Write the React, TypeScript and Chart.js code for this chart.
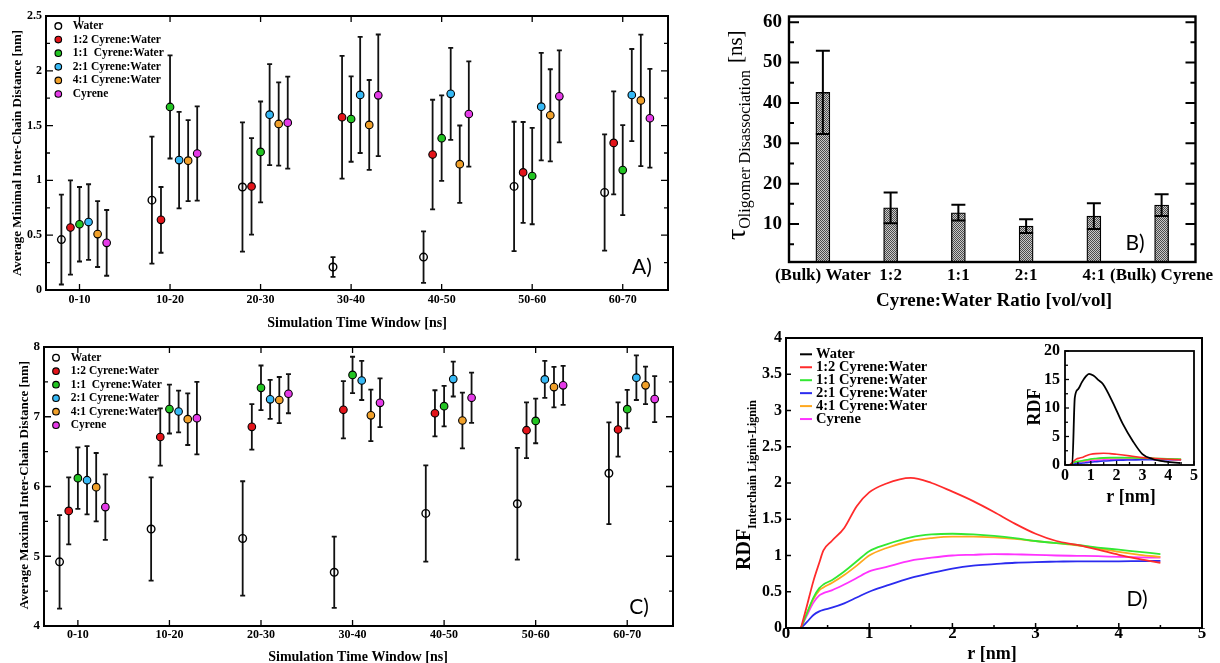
import React, { useEffect, useRef } from 'react';
import { Chart, registerables } from 'chart.js';

Chart.register(...registerables);

// ---------------- Data ----------------
const timeWindows = ['0-10', '10-20', '20-30', '30-40', '40-50', '50-60', '60-70'];
const seriesLabels = ['Water', '1:2 Cyrene:Water', '1:1  Cyrene:Water', '2:1 Cyrene:Water', '4:1 Cyrene:Water', 'Cyrene'];

// Panel A: average minimal inter-chain distance [nm]
const minWater = [0.46, 0.82, 0.94, 0.21, 0.3, 0.945, 0.89];
const minWaterErr = [0.41, 0.58, 0.59, 0.09, 0.235, 0.59, 0.53];
const min12 = [0.57, 0.64, 0.945, 1.576, 1.236, 1.073, 1.342];
const min12Err = [0.43, 0.3, 0.44, 0.56, 0.5, 0.46, 0.47];
const min11 = [0.6, 1.67, 1.26, 1.56, 1.385, 1.04, 1.094];
const min11Err = [0.34, 0.47, 0.46, 0.39, 0.39, 0.44, 0.41];
const min21 = [0.62, 1.185, 1.6, 1.78, 1.79, 1.673, 1.779];
const min21Err = [0.345, 0.44, 0.46, 0.53, 0.42, 0.49, 0.42];
const min41 = [0.51, 1.18, 1.515, 1.506, 1.148, 1.594, 1.73];
const min41Err = [0.3, 0.37, 0.38, 0.41, 0.353, 0.42, 0.6];
const minCyrene = [0.43, 1.245, 1.527, 1.776, 1.606, 1.767, 1.567];
const minCyreneErr = [0.3, 0.43, 0.42, 0.555, 0.48, 0.42, 0.45];

// Panel C: average maximal inter-chain distance [nm]
const maxWater = [4.92, 5.39, 5.255, 4.77, 5.614, 5.753, 6.19];
const maxWaterErr = [0.67, 0.74, 0.82, 0.51, 0.69, 0.8, 0.73];
const max12 = [5.65, 6.71, 6.855, 7.1, 7.05, 6.807, 6.817];
const max12Err = [0.48, 0.41, 0.325, 0.41, 0.33, 0.4, 0.39];
const max11 = [6.12, 7.11, 7.415, 7.6, 7.152, 6.94, 7.109];
const max11Err = [0.44, 0.35, 0.32, 0.26, 0.29, 0.32, 0.275];
const max21 = [6.09, 7.075, 7.25, 7.52, 7.54, 7.535, 7.56];
const max21Err = [0.49, 0.3, 0.28, 0.28, 0.25, 0.265, 0.32];
const max41 = [5.99, 6.965, 7.24, 7.02, 6.946, 7.425, 7.45];
const max41Err = [0.49, 0.37, 0.33, 0.37, 0.4, 0.29, 0.27];
const maxCyrene = [5.705, 6.98, 7.33, 7.2, 7.272, 7.45, 7.253];
const maxCyreneErr = [0.47, 0.52, 0.28, 0.35, 0.36, 0.28, 0.33];

// Panel B: oligomer disassociation time [ns]
const ratioLabels = ['(Bulk) Water', '1:2', '1:1', '2:1', '4:1', '(Bulk) Cyrene'];
const tauValues = [42.6, 14.0, 12.8, 9.5, 11.95, 14.7];
const tauErrors = [10.3, 3.8, 1.95, 1.7, 3.2, 2.7];
const tauTicks = [10, 20, 30, 40, 50, 60];

// Panel D: RDF interchain lignin-lignin
const rdfLabels = ['Water', '1:2 Cyrene:Water', '1:1 Cyrene:Water', '2:1 Cyrene:Water', '4:1 Cyrene:Water', 'Cyrene'];
const rGrid = [0.18, 0.25, 0.33, 0.4, 0.45, 0.55, 0.7, 0.85, 1.0, 1.2, 1.5, 1.75, 2.0, 2.25, 2.5, 2.75, 3.0, 3.25, 3.5, 3.75, 4.0, 4.25, 4.5];
const rdf12 = [0, 0.3, 0.65, 0.9, 1.07, 1.2, 1.38, 1.68, 1.87, 1.99, 2.07, 2.0, 1.88, 1.75, 1.6, 1.44, 1.3, 1.2, 1.145, 1.08, 1.01, 0.95, 0.9];
const rdf11 = [0, 0.2, 0.42, 0.55, 0.6, 0.66, 0.78, 0.92, 1.06, 1.15, 1.25, 1.29, 1.3, 1.29, 1.27, 1.24, 1.2, 1.17, 1.145, 1.11, 1.08, 1.05, 1.02];
const rdf21 = [0, 0.08, 0.18, 0.23, 0.25, 0.28, 0.34, 0.42, 0.5, 0.58, 0.69, 0.76, 0.82, 0.86, 0.88, 0.9, 0.91, 0.915, 0.92, 0.92, 0.92, 0.923, 0.925];
const rdf41 = [0, 0.2, 0.4, 0.52, 0.56, 0.62, 0.73, 0.86, 1.0, 1.1, 1.2, 1.24, 1.26, 1.26, 1.25, 1.23, 1.2, 1.17, 1.14, 1.1, 1.05, 1.01, 0.98];
const rdfCyrene = [0, 0.17, 0.35, 0.45, 0.48, 0.52, 0.6, 0.69, 0.78, 0.84, 0.93, 0.97, 1.0, 1.01, 1.02, 1.015, 1.01, 1.0, 0.995, 0.99, 0.98, 0.975, 0.97];
const rWater = [0.18, 0.28, 0.38, 0.51, 0.65, 0.8, 0.93, 1.1, 1.3, 1.47, 1.85, 2.24, 2.62, 3.0, 3.39, 3.9, 4.47];
const rdfWater = [0, 0, 11.8, 13.3, 14.5, 15.5, 16.0, 15.7, 14.9, 14.2, 11.0, 7.2, 4.26, 1.92, 1.05, 0.58, 0.35];
const insetXTicks = [0, 1, 2, 3, 4, 5];

// ---------------- Styles ----------------
const SERIF = '"Liberation Serif", "Times New Roman", Times, serif';
const LABEL_SANS = 'Lato, "Open Sans", "Liberation Sans", sans-serif';
const fnt = (size: number, bold = true, fam = SERIF) => `${bold ? 'bold ' : ''}${size}px ${fam}`;
const axisFont = (size: number) => ({ family: SERIF, size, weight: 'bold' as const, lineHeight: 1 });
const plainNum = (v: any) => String(Math.round(Number(v) * 100) / 100);
const markerFill = ['rgba(0,0,0,0)', '#e3141a', '#22c422', '#36b9f6', '#f0a02a', '#e53ae8'];
const lineColors = ['#000000', '#ff2b2b', '#33e833', '#2b2bef', '#ffa81e', '#ff33ff'];
const groupOffsets = [-0.2, -0.1, 0, 0.1, 0.2, 0.3];

const common: any = {
  responsive: false,
  maintainAspectRatio: false,
  animation: false,
  devicePixelRatio: 1,
  events: [],
  plugins: { legend: { display: false }, tooltip: { enabled: false }, title: { display: false } },
};

type Box = { x: number; y: number; w: number; h: number };
type Area = { l: number; t: number; r: number; b: number };
type Run = { text: string; font: string; dy?: number; gap?: number };
type TextItem = { runs: Run[]; x: number; y: number; rotate?: boolean; align?: 'left' | 'center' };

// ---------------- Plugins ----------------
function drawRuns(ctx: CanvasRenderingContext2D, it: TextItem) {
  ctx.save();
  ctx.translate(it.x, it.y);
  if (it.rotate) ctx.rotate(-Math.PI / 2);
  ctx.textBaseline = 'alphabetic';
  ctx.textAlign = 'left';
  ctx.fillStyle = '#000';
  let total = 0;
  it.runs.forEach((r) => {
    ctx.font = r.font;
    total += ctx.measureText(r.text).width + (r.gap || 0);
  });
  let cx = it.align === 'center' ? -total / 2 : 0;
  it.runs.forEach((r) => {
    ctx.font = r.font;
    cx += r.gap || 0;
    ctx.fillText(r.text, cx, r.dy || 0);
    cx += ctx.measureText(r.text).width;
  });
  ctx.restore();
}

const textPlugin = (items: TextItem[]) => ({
  id: 'texts',
  afterDraw(chart: any) {
    items.forEach((it) => drawRuns(chart.ctx, it));
  },
});

function minorValues(s: any, step: number) {
  const out: number[] = [];
  if (!step) return out;
  const majors = s.ticks.map((t: any) => t.value);
  for (let k = Math.ceil(s.min / step - 1e-9); k * step <= s.max + 1e-9; k++) {
    const v = k * step;
    if (!majors.some((m: number) => Math.abs(m - v) < step / 10)) out.push(v);
  }
  return out;
}

const framePlugin = (o: any) => ({
  id: 'frame',
  afterDraw(chart: any) {
    const { ctx, chartArea: a } = chart;
    const xs = chart.scales.x;
    const ys = chart.scales.y;
    ctx.save();
    ctx.strokeStyle = '#000';
    ctx.lineWidth = o.tickWidth ?? 1.5;
    const yTick = (v: number, len: number) => {
      const p = ys.getPixelForValue(v);
      if (p < a.top - 0.5 || p > a.bottom + 0.5) return;
      ctx.beginPath();
      ctx.moveTo(a.left, p);
      ctx.lineTo(a.left + len, p);
      if (o.yRight) {
        ctx.moveTo(a.right, p);
        ctx.lineTo(a.right - len, p);
      }
      ctx.stroke();
    };
    const xTick = (v: number, len: number) => {
      const p = xs.getPixelForValue(v);
      if (p < a.left - 0.5 || p > a.right + 0.5) return;
      ctx.beginPath();
      ctx.moveTo(p, a.bottom);
      ctx.lineTo(p, a.bottom - len);
      if (o.xTop) {
        ctx.moveTo(p, a.top);
        ctx.lineTo(p, a.top + len);
      }
      ctx.stroke();
    };
    if (o.yMajorLen) ys.ticks.forEach((t: any) => yTick(t.value, o.yMajorLen));
    if (o.yMinorLen) minorValues(ys, o.yMinorStep).forEach((v) => yTick(v, o.yMinorLen));
    if (o.xMajorLen) xs.ticks.forEach((t: any) => xTick(t.value, o.xMajorLen));
    if (o.xMinorLen) minorValues(xs, o.xMinorStep).forEach((v) => xTick(v, o.xMinorLen));
    ctx.lineWidth = o.frameWidth ?? 2;
    ctx.strokeRect(a.left, a.top, a.right - a.left, a.bottom - a.top);
    ctx.restore();
  },
});

function drawErrorBars(chart: any, errors: number[][], o: any) {
  const { ctx } = chart;
  const ys = chart.scales.y;
  ctx.save();
  ctx.strokeStyle = o.color ?? '#111';
  ctx.lineWidth = o.width ?? 2;
  chart.data.datasets.forEach((ds: any, i: number) => {
    const errs = errors[i];
    if (!errs) return;
    const meta = chart.getDatasetMeta(i);
    meta.data.forEach((el: any, j: number) => {
      const raw = ds.data[j];
      const v = typeof raw === 'number' ? raw : raw.y;
      const e = errs[j];
      const top = ys.getPixelForValue(v + e);
      const bot = ys.getPixelForValue(v - e);
      const x = el.x;
      const c = o.cap ?? 3;
      ctx.beginPath();
      ctx.moveTo(x, top);
      ctx.lineTo(x, bot);
      ctx.moveTo(x - c, top);
      ctx.lineTo(x + c, top);
      ctx.moveTo(x - c, bot);
      ctx.lineTo(x + c, bot);
      ctx.stroke();
    });
  });
  ctx.restore();
}

const errorBarPlugin = (errors: number[][], o: any) => ({
  id: 'errbars',
  beforeDatasetsDraw(chart: any) {
    if (!o.after) drawErrorBars(chart, errors, o);
  },
  afterDatasetsDraw(chart: any) {
    if (o.after) drawErrorBars(chart, errors, o);
  },
});

const keyPlugin = (o: any) => ({
  id: 'keybox',
  afterDraw(chart: any) {
    const { ctx } = chart;
    ctx.save();
    ctx.textBaseline = 'middle';
    ctx.textAlign = 'left';
    o.items.forEach((it: any, i: number) => {
      const y = o.y + i * o.step;
      if (o.kind === 'marker') {
        ctx.beginPath();
        ctx.arc(o.markX, y, o.r, 0, Math.PI * 2);
        ctx.fillStyle = it.fill;
        ctx.fill();
        ctx.lineWidth = it.bw;
        ctx.strokeStyle = '#000';
        ctx.stroke();
      } else {
        ctx.beginPath();
        ctx.moveTo(o.lineX0, y);
        ctx.lineTo(o.lineX1, y);
        ctx.strokeStyle = it.color;
        ctx.lineWidth = 2;
        ctx.stroke();
      }
      ctx.font = o.font;
      ctx.fillStyle = '#000';
      ctx.fillText(it.label, o.textX, y + (o.textDy ?? 0));
    });
    ctx.restore();
  },
});

function hiddenGrid() {
  return { grid: { display: false, drawTicks: false }, border: { display: false } };
}

// ---------------- Chart configs ----------------
function scatterPanel(p: {
  box: Box;
  area: Area;
  values: number[][];
  errors: number[][];
  yMin: number;
  yMax: number;
  yStep: number;
  yMinor: number;
  yFont: number;
  xPad: number;
  yPad: number;
  legend: { markX: number; textX: number; y: number; step: number };
  texts: TextItem[];
}) {
  return () => {
    const datasets = p.values.map((vals, s) => ({
      label: seriesLabels[s],
      data: vals.map((v, i) => ({ x: i + 1 + groupOffsets[s], y: v })),
      backgroundColor: markerFill[s],
      borderColor: '#000',
      borderWidth: s === 0 ? 1.4 : 1.1,
      pointRadius: 3.8,
      pointHoverRadius: 3.8,
      showLine: false,
    }));
    return {
      type: 'scatter',
      data: { datasets },
      options: {
        ...common,
        layout: { padding: { top: p.area.t, right: p.box.w - p.area.r, left: 0, bottom: 0 } },
        scales: {
          x: {
            type: 'linear',
            min: 0.63,
            max: 7.5,
            afterBuildTicks: (s: any) => {
              s.ticks = timeWindows.map((_, i) => ({ value: i + 1 }));
            },
            afterFit: (s: any) => {
              s.height = p.box.h - p.area.b;
            },
            ticks: {
              autoSkip: false,
              maxRotation: 0,
              minRotation: 0,
              callback: (_v: any, i: number) => timeWindows[i],
              font: axisFont(12),
              color: '#000',
              padding: p.xPad,
            },
            ...hiddenGrid(),
          },
          y: {
            type: 'linear',
            min: p.yMin,
            max: p.yMax,
            afterFit: (s: any) => {
              s.width = p.area.l;
            },
            ticks: { stepSize: p.yStep, font: axisFont(p.yFont), color: '#000', padding: p.yPad, callback: plainNum },
            ...hiddenGrid(),
          },
        },
      },
      plugins: [
        errorBarPlugin(p.errors, { width: 1.8, cap: 2.5 }),
        framePlugin({ yMajorLen: 7, yMinorLen: 4, yMinorStep: p.yMinor, yRight: true, xMajorLen: 6, xTop: true, frameWidth: 2, tickWidth: 1.3 }),
        keyPlugin({
          kind: 'marker',
          markX: p.legend.markX,
          textX: p.legend.textX,
          y: p.legend.y,
          step: p.legend.step,
          r: 3.3,
          font: fnt(11.5),
          items: seriesLabels.map((l, s) => ({ label: l, fill: markerFill[s], bw: s === 0 ? 1.4 : 1.1 })),
        }),
        textPlugin(p.texts),
      ],
    };
  };
}

const boxA: Box = { x: 0, y: 0, w: 690, h: 330 };
const areaA: Area = { l: 46, t: 16, r: 668, b: 290 };
const buildA = scatterPanel({
  box: boxA,
  area: areaA,
  values: [minWater, min12, min11, min21, min41, minCyrene],
  errors: [minWaterErr, min12Err, min11Err, min21Err, min41Err, minCyreneErr],
  yMin: 0,
  yMax: 2.5,
  yStep: 0.5,
  yMinor: 0.25,
  yFont: 12,
  xPad: 4,
  yPad: 4,
  legend: { markX: 58.3, textX: 72.7, y: 26, step: 13.6 },
  texts: [
    { runs: [{ text: 'Average Minimal Inter-Chain Distance [nm]', font: fnt(13) }], x: 21, y: 153, rotate: true, align: 'center' },
    { runs: [{ text: 'Simulation Time Window [ns]', font: fnt(14) }], x: 357, y: 327, align: 'center' },
    { runs: [{ text: 'A)', font: `21px ${LABEL_SANS}` }], x: 642, y: 274, align: 'center' },
  ],
});

const boxC: Box = { x: 0, y: 330, w: 690, h: 333 };
const areaC: Area = { l: 44, t: 17, r: 673, b: 296 };
const buildC = scatterPanel({
  box: boxC,
  area: areaC,
  values: [maxWater, max12, max11, max21, max41, maxCyrene],
  errors: [maxWaterErr, max12Err, max11Err, max21Err, max41Err, maxCyreneErr],
  yMin: 4,
  yMax: 8,
  yStep: 1,
  yMinor: 0.5,
  yFont: 13,
  xPad: 3,
  yPad: 4,
  legend: { markX: 56, textX: 70.7, y: 27.7, step: 13.5 },
  texts: [
    { runs: [{ text: 'Average Maximal Inter-Chain Distance [nm]', font: fnt(13) }], x: 28, y: 155, rotate: true, align: 'center' },
    { runs: [{ text: 'Simulation Time Window [ns]', font: fnt(14) }], x: 358, y: 331, align: 'center' },
    { runs: [{ text: 'C)', font: `21px ${LABEL_SANS}` }], x: 639, y: 284, align: 'center' },
  ],
});

const boxB: Box = { x: 690, y: 0, w: 530, h: 330 };
const areaB: Area = { l: 99, t: 14, r: 508, b: 262 };
function buildB() {
  const pc = document.createElement('canvas');
  pc.width = 2;
  pc.height = 2;
  const g = pc.getContext('2d')!;
  g.fillStyle = '#c9c9c9';
  g.fillRect(0, 0, 2, 2);
  g.fillStyle = '#4c4c4c';
  g.fillRect(0, 0, 1, 1);
  g.fillRect(1, 1, 1, 1);
  const pattern = g.createPattern(pc, 'repeat');
  return {
    type: 'bar',
    data: {
      labels: ratioLabels,
      datasets: [
        {
          data: tauValues,
          backgroundColor: pattern,
          borderColor: '#000',
          borderWidth: 1.3,
          borderSkipped: false,
          barThickness: 14,
        },
      ],
    },
    options: {
      ...common,
      layout: { padding: { top: areaB.t, right: boxB.w - areaB.r, left: 0, bottom: 0 } },
      scales: {
        x: {
          type: 'category',
          offset: true,
          afterFit: (s: any) => {
            s.height = boxB.h - areaB.b;
          },
          ticks: { autoSkip: false, maxRotation: 0, minRotation: 0, font: axisFont(17), color: '#000', padding: 5 },
          ...hiddenGrid(),
        },
        y: {
          type: 'linear',
          min: 0.6,
          max: 61.4,
          afterBuildTicks: (s: any) => {
            s.ticks = tauTicks.map((v) => ({ value: v }));
          },
          afterFit: (s: any) => {
            s.width = areaB.l;
          },
          ticks: { font: axisFont(19), color: '#000', padding: 7, callback: plainNum },
          ...hiddenGrid(),
        },
      },
    },
    plugins: [
      errorBarPlugin([tauErrors], { after: true, width: 2, cap: 7, color: '#000' }),
      framePlugin({ yMajorLen: 10, yMinorLen: 5, yMinorStep: 5, yRight: true, frameWidth: 2.4, tickWidth: 2 }),
      textPlugin([
        {
          runs: [
            { text: 'τ', font: `28px ${SERIF}` },
            { text: 'Oligomer Disassociation', font: `16px ${SERIF}`, dy: 5 },
            { text: '[ns]', font: `21px ${SERIF}`, dy: -3, gap: 7 },
          ],
          x: 54.5,
          y: 240,
          rotate: true,
        },
        { runs: [{ text: 'Cyrene:Water Ratio [vol/vol]', font: fnt(19) }], x: 304, y: 306, align: 'center' },
        { runs: [{ text: 'B)', font: `21px ${LABEL_SANS}` }], x: 445, y: 250, align: 'center' },
      ]),
    ],
  };
}

const boxD: Box = { x: 690, y: 320, w: 530, h: 343 };
const areaD: Area = { l: 96, t: 18, r: 512, b: 308 };
function buildD() {
  const series = [rdf12, rdf11, rdf21, rdf41, rdfCyrene];
  const datasets = series.map((vals, k) => ({
    label: rdfLabels[k + 1],
    data: rGrid.map((r, i) => ({ x: r, y: vals[i] })),
    borderColor: lineColors[k + 1],
    borderWidth: 1.8,
    pointRadius: 0,
    fill: false,
    cubicInterpolationMode: 'monotone',
  }));
  return {
    type: 'line',
    data: { datasets },
    options: {
      ...common,
      layout: { padding: { top: areaD.t, right: boxD.w - areaD.r, left: 0, bottom: 0 } },
      scales: {
        x: {
          type: 'linear',
          min: 0,
          max: 5,
          afterFit: (s: any) => {
            s.height = boxD.h - areaD.b;
          },
          ticks: { stepSize: 1, font: axisFont(17), color: '#000', padding: -3, maxRotation: 0, callback: plainNum },
          ...hiddenGrid(),
        },
        y: {
          type: 'linear',
          min: 0,
          max: 4,
          afterFit: (s: any) => {
            s.width = areaD.l;
          },
          ticks: { stepSize: 0.5, font: axisFont(16), color: '#000', padding: 4, callback: plainNum },
          ...hiddenGrid(),
        },
      },
    },
    plugins: [
      framePlugin({ yMajorLen: 5, xMajorLen: 5, xMinorLen: 3, xMinorStep: 0.5, frameWidth: 2, tickWidth: 1.5 }),
      keyPlugin({
        kind: 'line',
        lineX0: 110,
        lineX1: 122,
        textX: 126,
        y: 34.3,
        step: 12.95,
        font: fnt(14.5),
        items: rdfLabels.map((l, k) => ({ label: l, color: lineColors[k] })),
      }),
      textPlugin([
        {
          runs: [
            { text: 'RDF', font: fnt(20) },
            { text: 'Interchain Lignin-Lignin', font: fnt(12), dy: 6.5 },
          ],
          x: 59.5,
          y: 250,
          rotate: true,
        },
        { runs: [{ text: 'r [nm]', font: fnt(18) }], x: 302, y: 339, align: 'center' },
        { runs: [{ text: 'D)', font: `21px ${LABEL_SANS}` }], x: 447, y: 286, align: 'center' },
      ]),
    ],
  };
}

const boxI: Box = { x: 1000, y: 338, w: 210, h: 170 };
const areaI: Area = { l: 65, t: 11, r: 194, b: 127 };
function buildInset() {
  const series = [rdf12, rdf11, rdf21, rdf41, rdfCyrene];
  const datasets: any[] = [
    {
      label: rdfLabels[0],
      data: rWater.map((r, i) => ({ x: r, y: rdfWater[i] })),
      borderColor: lineColors[0],
      borderWidth: 1.8,
      pointRadius: 0,
      fill: false,
      cubicInterpolationMode: 'monotone',
    },
    ...series.map((vals, k) => ({
      label: rdfLabels[k + 1],
      data: rGrid.map((r, i) => ({ x: r, y: vals[i] })),
      borderColor: lineColors[k + 1],
      borderWidth: 1.6,
      pointRadius: 0,
      fill: false,
      cubicInterpolationMode: 'monotone',
    })),
  ];
  return {
    type: 'line',
    data: { datasets },
    options: {
      ...common,
      layout: { padding: { top: areaI.t, right: boxI.w - areaI.r, left: 0, bottom: 0 } },
      scales: {
        x: {
          type: 'linear',
          min: 0,
          max: 5,
          afterBuildTicks: (s: any) => {
            s.ticks = insetXTicks.map((v) => ({ value: v }));
          },
          afterFit: (s: any) => {
            s.height = boxI.h - areaI.b;
          },
          ticks: { font: axisFont(16), color: '#000', padding: 3, maxRotation: 0, autoSkip: false, callback: plainNum },
          ...hiddenGrid(),
        },
        y: {
          type: 'linear',
          min: 0,
          max: 20,
          afterFit: (s: any) => {
            s.width = areaI.l;
          },
          ticks: { stepSize: 5, font: axisFont(16), color: '#000', padding: 5, callback: plainNum },
          ...hiddenGrid(),
        },
      },
    },
    plugins: [
      framePlugin({ yMajorLen: 4, yMinorLen: 3, yMinorStep: 2.5, xMajorLen: 4, xMinorLen: 3, xMinorStep: 0.5, frameWidth: 1.8, tickWidth: 1.3 }),
      textPlugin([
        { runs: [{ text: 'RDF', font: fnt(18) }], x: 39.5, y: 69, rotate: true, align: 'center' },
        { runs: [{ text: 'r [nm]', font: fnt(18) }], x: 131, y: 164, align: 'center' },
      ]),
    ],
  };
}

// ---------------- Components ----------------
function Panel({ box, build }: { box: Box; build: () => any }) {
  const ref = useRef<HTMLCanvasElement | null>(null);
  useEffect(() => {
    if (!ref.current) return;
    const chart = new Chart(ref.current, build());
    return () => chart.destroy();
  }, []);
  return (
    <canvas
      ref={ref}
      width={box.w}
      height={box.h}
      style={{ position: 'absolute', left: box.x, top: box.y, width: box.w, height: box.h }}
    />
  );
}

export default function App() {
  return (
    <div
      style={{
        position: 'fixed',
        left: 0,
        top: 0,
        width: 1220,
        height: 663,
        background: '#fff',
        overflow: 'hidden',
      }}
    >
      <Panel box={boxA} build={buildA} />
      <Panel box={boxC} build={buildC} />
      <Panel box={boxB} build={buildB} />
      <Panel box={boxD} build={buildD} />
      <Panel box={boxI} build={buildInset} />
    </div>
  );
}
